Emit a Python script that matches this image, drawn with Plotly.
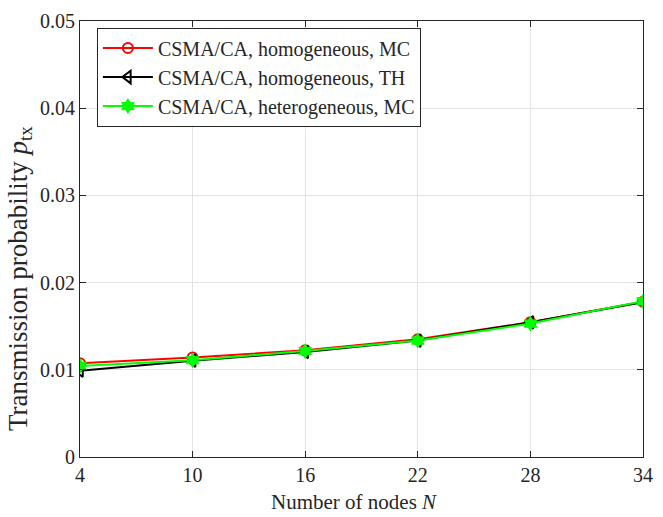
import plotly.graph_objects as go

N = [4, 10, 16, 22, 28, 34]
homo_mc = [0.01075, 0.01140, 0.01225, 0.01350, 0.01545, 0.01780]
homo_th = [0.00990, 0.01105, 0.01205, 0.01335, 0.01545, 0.01775]
hetero_mc = [0.01045, 0.01110, 0.01215, 0.01335, 0.01530, 0.01785]
names = ["CSMA/CA, homogeneous, MC", "CSMA/CA, homogeneous, TH", "CSMA/CA, heterogeneous, MC"]
y_ticks = [0, 0.01, 0.02, 0.03, 0.04, 0.05]
y_ticktext = ["0", "0.01", "0.02", "0.03", "0.04", "0.05"]

FONT = "Liberation Serif, Times New Roman, serif"
TXT = "#262626"

fig = go.Figure()
fig.add_trace(go.Scatter(x=N, y=homo_mc, name=names[0], mode="lines+markers",
                         line=dict(color="#ff0000", width=2),
                         marker=dict(symbol="circle-open", size=10, color="#ff0000", line=dict(width=2))))
fig.add_trace(go.Scatter(x=N, y=homo_th, name=names[1], mode="lines+markers",
                         line=dict(color="#000000", width=2),
                         marker=dict(symbol="triangle-left-open", size=11, color="#000000", line=dict(width=2))))
fig.add_trace(go.Scatter(x=N, y=hetero_mc, name=names[2], mode="lines+markers",
                         line=dict(color="#00ff00", width=2),
                         marker=dict(symbol="hexagram", size=11, color="#00ff00", line=dict(width=1, color="#00ff00"))))

axis_common = dict(showline=True, linecolor=TXT, linewidth=1, mirror="allticks",
                   ticks="inside", ticklen=6, tickcolor=TXT,
                   showgrid=True, gridcolor="#e3e3e3", gridwidth=1, zeroline=False,
                   tickfont=dict(family=FONT, size=20, color=TXT))

fig.update_xaxes(range=[4, 34], tickvals=N, ticktext=[str(v) for v in N], **axis_common)
fig.update_yaxes(range=[0, 0.05], tickvals=y_ticks, ticktext=y_ticktext, **axis_common)

# plot area: 14..457 px tall (443 px); title box bottom at ~516.5 px
fig.add_annotation(text="Number of nodes <i>N</i>", xref="paper", yref="paper",
                   x=0.486, y=-(516.5 - 457) / 443, xanchor="center", yanchor="bottom", showarrow=False,
                   font=dict(family=FONT, size=21, color=TXT))
fig.add_annotation(text="Transmission probability <i>p</i><sub>tx</sub>", xref="paper", yref="paper",
                   x=-0.107, y=0.41, xanchor="center", yanchor="middle", showarrow=False,
                   textangle=-90, font=dict(family=FONT, size=27, color=TXT))

fig.update_layout(width=663, height=517, margin=dict(l=80, r=10, t=14, b=60),
                  paper_bgcolor="white", plot_bgcolor="white",
                  font=dict(family=FONT, color=TXT),
                  legend=dict(x=0.03, y=0.985, xanchor="left", yanchor="top",
                              bgcolor="white", bordercolor=TXT, borderwidth=1,
                              font=dict(family=FONT, size=20, color=TXT),
                              tracegroupgap=0, itemwidth=50),
                  showlegend=True)

fig.write_html("out.html")
